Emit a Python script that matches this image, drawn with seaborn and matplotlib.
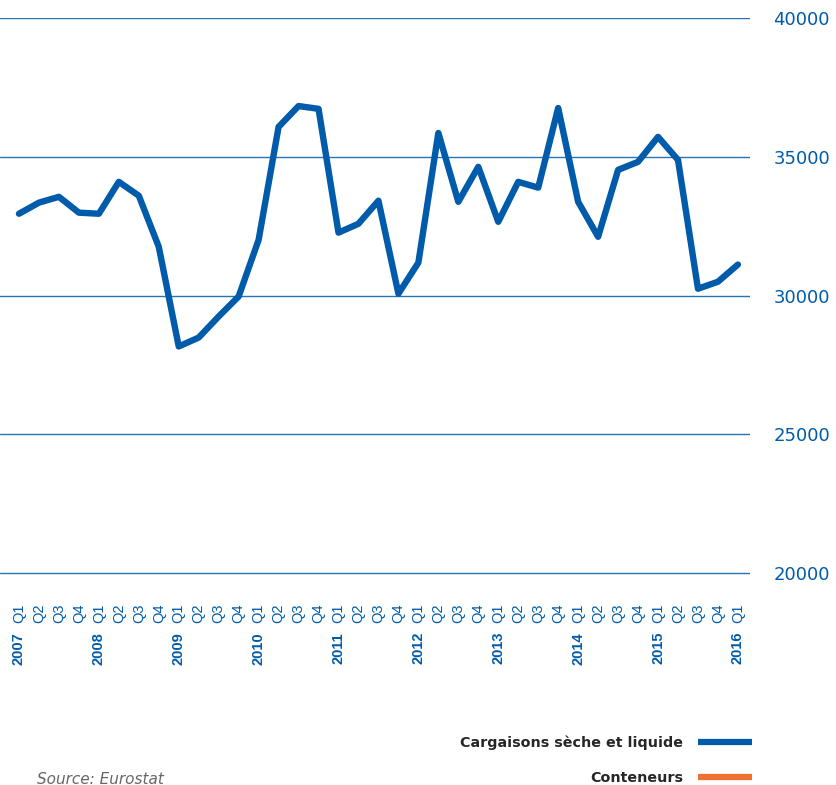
import matplotlib.pyplot as plt
import matplotlib.transforms as mtransforms
from matplotlib.lines import Line2D
import pandas as pd
import seaborn as sns

years = [2007, 2008, 2009, 2010, 2011, 2012, 2013, 2014, 2015, 2016]
quarters = ["Q1", "Q2", "Q3", "Q4"]
values = [32950, 33350, 33560, 32990, 32950, 34100, 33600, 31760,
          28170, 28490, 29250, 29970, 32010, 36080, 36830, 36730,
          32270, 32590, 33420, 30070, 31190, 35860, 33380, 34640,
          32660, 34100, 33890, 36760, 33380, 32120, 34530, 34820,
          35720, 34890, 30250, 30500, 31120]

labels = [f"{y} {q}" for y in years for q in quarters][:len(values)]
df = pd.DataFrame({"idx": range(len(values)), "periode": labels, "valeur": values})

blue = "#005BAA"
orange = "#F07032"

sns.set_style("white")
plt.rcParams['font.family'] = ['DejaVu Sans']

fig = plt.figure(figsize=(8.36, 7.85), dpi=100)
ax = fig.add_axes([0, 0.268, 0.897, 0.709])

sns.lineplot(data=df, x="idx", y="valeur", color=blue, linewidth=4.6, ax=ax)

ax.set_ylim(19950, 40000)
ax.set_xlim(-0.95, 36.6)
ax.set_yticks([20000, 25000, 30000, 35000, 40000])
ax.yaxis.tick_right()
ax.grid(axis="y", color=blue, linewidth=1, alpha=0.85)
ax.set_axisbelow(True)
for s in ax.spines.values():
    s.set_visible(False)
ax.tick_params(axis="y", length=0, pad=17, labelsize=13, labelcolor=blue)

ax.set_xticks(df["idx"])
ax.set_xticklabels([l.split()[1] for l in labels], rotation=90, fontsize=10.5,
                   color=blue, va="top", family="Liberation Sans")
ax.tick_params(axis="x", length=0, pad=21)
ax.set_xlabel("")
ax.set_ylabel("")

# year labels under Q1
trans = mtransforms.blended_transform_factory(ax.transData, fig.transFigure)
for i, l in enumerate(labels):
    if l.endswith("Q1"):
        ax.text(i, 1 - 632 / 785, l.split()[0], transform=trans, rotation=90,
                ha="center", va="top", fontsize=10.5, fontweight="bold",
                color=blue, family="Liberation Sans")

handles = [Line2D([], [], color=blue, linewidth=4.5, solid_capstyle="butt"),
           Line2D([], [], color=orange, linewidth=4.5, solid_capstyle="butt")]
fig.legend(handles, ["Cargaisons sèche et liquide", "Conteneurs"],
           loc="upper right", bbox_to_anchor=(752 / 836, 1 - 736 / 785),
           frameon=False, borderpad=0, borderaxespad=0,
           markerfirst=False, handlelength=3.8, handletextpad=1.0,
           labelspacing=1.45, prop={"weight": "bold", "size": 10.3})

fig.text(37 / 836, 1 - 779 / 785, "Source: Eurostat", fontsize=11, style="italic",
         color="#666666", va="center")

fig.savefig("out.png", dpi=100)
